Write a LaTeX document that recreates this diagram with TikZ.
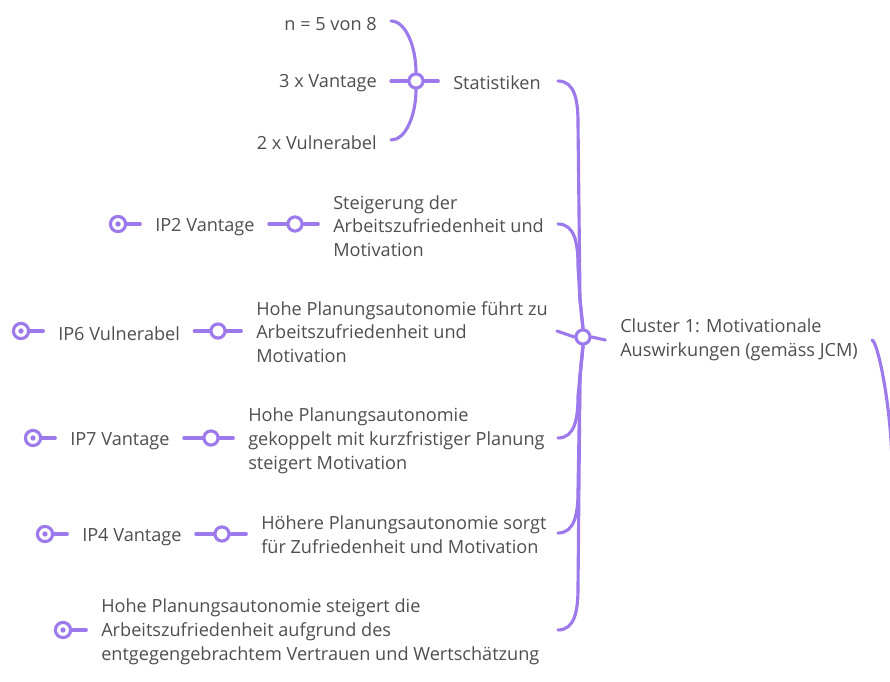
\documentclass[tikz,border=0pt]{standalone}
\usepackage{fontspec}
\setmainfont{Open Sans}
\usetikzlibrary{calc}
\definecolor{mmline}{HTML}{9C7AEB}
\definecolor{mmtext}{HTML}{4E4E4E}
\begin{document}
\begin{tikzpicture}[x=0.75pt,y=-0.75pt,
  lbl/.style={inner sep=0pt, text=mmtext, font=\fontsize{13.6}{17.8}\selectfont, align=left},
  edge/.style={draw=mmline, line width=2.35pt, line cap=round, line join=round},
  junc/.style={circle, draw=mmline, fill=white, line width=2.35pt, minimum size=10.6pt, inner sep=0pt},
  leaf/.style={circle, draw=mmline, fill=white, line width=2.35pt, minimum size=11.4pt, inner sep=0pt,
    path picture={\fill[mmline] (path picture bounding box.center) circle (2pt);}},
]
\useasboundingbox (0,0) rectangle (890,682);
\begin{scope}
\clip (0,0) rectangle (890,682);

% --- central topic and its junction
\node[lbl, anchor=west] (clu) at (620,340) {Cluster 1: Motivationale\\Auswirkungen (gemäss JCM)};
\node[junc] (jm) at (583,337) {};
\coordinate (up) at (892,470);
\draw[edge] (jm.east) -- ([xshift=-11pt]clu.west);
\draw[edge] ([xshift=10.5pt]clu.east) .. controls +(6,2) and +(0,-60) .. (up);

% --- Statistiken
\node[lbl, anchor=west] (stat) at (453,83) {Statistiken};
\node[junc] (js) at (416,81) {};
\node[lbl, anchor=east] (n5) at (377,24) {n = 5 von 8};
\node[lbl, anchor=east] (v3) at (377,83) {3 x Vantage};
\node[lbl, anchor=east] (v2) at (377,143) {2 x Vulnerabel};
\draw[edge] (js.east) -- ([xshift=-11pt]stat.west|-js.east);
\draw[edge] ([xshift=10.5pt]n5.east) ++(0,-3) .. controls +(15,0) and +(0,-25) .. (js.north);
\draw[edge] ([xshift=10.5pt]v3.east|-js.west) -- (js.west);
\draw[edge] ([xshift=10.5pt]v2.east) ++(0,-3) .. controls +(15,0) and +(0,25) .. (js.south);

% --- Steigerung der Arbeitszufriedenheit
\node[lbl, anchor=west] (c2) at (333,226) {Steigerung der\\Arbeitszufriedenheit und\\Motivation};
\node[junc] (j2) at (295,224) {};
\node[lbl, anchor=west] (ip2) at (155,227) {IP2 Vantage};
\node[leaf] (l2) at (118,224) {};
\draw[edge] (j2.east) -- ([xshift=-11pt]c2.west|-j2.east);
\draw[edge] ([xshift=10.5pt]ip2.east|-j2.west) -- (j2.west);
\draw[edge] (l2.east) -- ([xshift=-11pt]ip2.west|-l2.east);

% --- Planungsautonomie -> Zufriedenheit
\node[lbl, anchor=west] (c3) at (256,332) {Hohe Planungsautonomie führt zu\\Arbeitszufriedenheit und\\Motivation};
\node[junc] (j3) at (218,331) {};
\node[lbl, anchor=west] (ip6) at (58,334) {IP6 Vulnerabel};
\node[leaf] (l6) at (21,331) {};
\draw[edge] (j3.east) -- ([xshift=-11pt]c3.west|-j3.east);
\draw[edge] ([xshift=10.5pt]ip6.east|-j3.west) -- (j3.west);
\draw[edge] (l6.east) -- ([xshift=-11pt]ip6.west|-l6.east);

% --- kurzfristige Planung
\node[lbl, anchor=west] (c4) at (248,441) {Hohe Planungsautonomie\\gekoppelt mit kurzfristiger Planung\\steigert Motivation};
\node[junc] (j4) at (211,438) {};
\node[lbl, anchor=west] (ip7) at (70,441) {IP7 Vantage};
\node[leaf] (l7) at (33,438) {};
\draw[edge] (j4.east) -- ([xshift=-11pt]c4.west|-j4.east);
\draw[edge] ([xshift=10.5pt]ip7.east|-j4.west) -- (j4.west);
\draw[edge] (l7.east) -- ([xshift=-11pt]ip7.west|-l7.east);

% --- Höhere Planungsautonomie
\node[lbl, anchor=west] (c5) at (261,535) {Höhere Planungsautonomie sorgt\\für Zufriedenheit und Motivation};
\node[junc] (j5) at (222,534) {};
\node[lbl, anchor=west] (ip4) at (82,537) {IP4 Vantage};
\node[leaf] (l4) at (45,534) {};
\draw[edge] (j5.east) -- ([xshift=-11pt]c5.west|-j5.east);
\draw[edge] ([xshift=10.5pt]ip4.east|-j5.west) -- (j5.west);
\draw[edge] (l4.east) -- ([xshift=-11pt]ip4.west|-l4.east);

% --- Vertrauen und Wertschätzung
\node[lbl, anchor=west] (c6) at (101,632) {Hohe Planungsautonomie steigert die\\Arbeitszufriedenheit aufgrund des\\entgegengebrachtem Vertrauen und Wertschätzung};
\node[leaf] (l6b) at (63,630) {};
\draw[edge] (l6b.east) -- ([xshift=-11pt]c6.west|-l6b.east);

% --- branches joining the central junction (shared trunk tails)
\coordinate (e1) at (558,81);
\coordinate (e2) at (558,224);
\coordinate (e3) at (557,331);
\coordinate (e4) at (558,438);
\coordinate (e5) at (558,533);
\coordinate (e6) at (558,630);
\coordinate (tu) at (580,300);
\coordinate (td) at (580,376);
\draw[edge] (e1) .. controls +(17,0) and +(0,-22) .. (578,123) -- (tu) -- (jm.north);
\draw[edge] (e2) .. controls +(17,0) and +(0,-22) .. (578,266) -- (tu) -- (jm.north);
\draw[edge] (e3) -- (jm.west);
\draw[edge] (e4) .. controls +(17,0) and +(0,22) .. (578,396) -- (td) -- (jm.south);
\draw[edge] (e5) .. controls +(17,0) and +(0,22) .. (578,491) -- (td) -- (jm.south);
\draw[edge] (e6) .. controls +(17,0) and +(0,22) .. (578,588) -- (td) -- (jm.south);
\end{scope}
\end{tikzpicture}
\end{document}
